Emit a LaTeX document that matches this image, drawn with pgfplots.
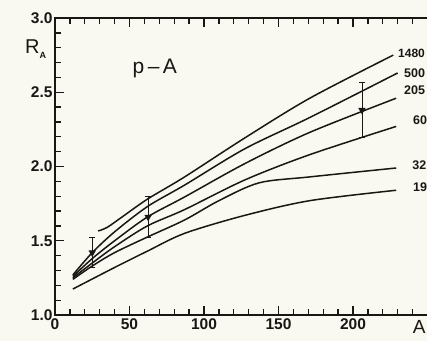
\documentclass[border=0pt]{standalone}
\usepackage{pgfplots}
\pgfplotsset{compat=1.18}
\usepackage{fontspec}
\setmainfont{Liberation Sans}
\definecolor{bg}{RGB}{250,249,241}
\definecolor{ink}{RGB}{25,22,20}
\begin{document}
\begin{tikzpicture}[x=1pt,y=1pt]
\useasboundingbox[fill=bg] (-55,-26) rectangle (372,315);
\begin{axis}[
  at={(0,0)}, anchor=south west,
  scale only axis, width=372.5pt, height=297pt,
  xmin=0, xmax=250, ymin=1, ymax=3,
  axis line style={ink, line width=1.6pt},
  xtick={0,50,100,150,200}, minor xtick={10,20,...,240},
  ytick={1.0,1.5,2.0,2.5,3.0}, minor ytick={1.1,1.2,...,2.95},
  ytick pos=left,
  xticklabel={\textbf{\pgfmathprintnumber[assume math mode=true]{\tick}}},
  yticklabel={\textbf{\pgfmathprintnumber[assume math mode=true,fixed,fixed zerofill,precision=1]{\tick}}},
  tick style={ink, line width=1.3pt},
  major tick length=9pt, minor tick length=6pt,
  tick align=inside,
  ticklabel style={font=\bfseries\fontsize{15.5}{15.5}\selectfont, text=ink},
  xticklabel style={yshift=0pt},
  yticklabel style={xshift=1pt},
  clip=false,
]
\addplot[ink, line width=1.5pt, smooth] coordinates {(29,1.566) (35,1.59) (45,1.66) (62,1.78) (87,1.93) (127,2.19) (171,2.46) (227,2.75)};
\addplot[ink, line width=1.5pt, smooth] coordinates {(12,1.27) (25,1.42) (40,1.56) (62,1.73) (87,1.875) (127.5,2.12) (171,2.33) (230,2.63)};
\addplot[ink, line width=1.5pt, smooth] coordinates {(12,1.26) (25,1.38) (40,1.50) (62,1.66) (87,1.795) (127.5,2.02) (171,2.23) (229,2.46)};
\addplot[ink, line width=1.5pt, smooth] coordinates {(12,1.25) (25,1.35) (40,1.46) (62,1.60) (87,1.71) (127.5,1.91) (171,2.08) (229,2.27)};
\addplot[ink, line width=1.5pt, smooth] coordinates {(12,1.24) (25,1.33) (40,1.42) (62,1.525) (87,1.64) (110,1.77) (137,1.89) (171,1.93) (229,1.99)};
\addplot[ink, line width=1.5pt, smooth] coordinates {(12,1.175) (40,1.32) (62,1.43) (87,1.55) (127,1.67) (171,1.77) (229,1.84)};
% error bars
\addplot[ink, line width=1.3pt, only marks, mark=triangle*, mark size=3pt, mark options={rotate=180},
  error bars/.cd, y dir=both, y explicit, error mark options={rotate=90, mark size=3pt, line width=1.3pt}]
  coordinates {(25,1.42) +- (0,0.1) (62.5,1.66) +- (0,0.138) (206,2.38) +- (0,0.185)};
% labels
\node[anchor=west, inner sep=1pt, font=\bfseries\fontsize{12}{12}\selectfont, text=ink] at (axis cs:229.5,2.76) {1480};
\node[anchor=west, font=\bfseries\fontsize{12.5}{12.5}\selectfont, text=ink] at (axis cs:232,2.63) {500};
\node[anchor=west, font=\bfseries\fontsize{12.5}{12.5}\selectfont, text=ink] at (axis cs:232,2.515) {205};
\node[anchor=west, font=\bfseries\fontsize{12.5}{12.5}\selectfont, text=ink] at (axis cs:238,2.31) {60};
\node[anchor=west, font=\bfseries\fontsize{12.5}{12.5}\selectfont, text=ink] at (axis cs:237.5,2.01) {32};
\node[anchor=west, font=\bfseries\fontsize{12.5}{12.5}\selectfont, text=ink] at (axis cs:238,1.862) {19};
\node[font=\fontsize{21}{21}\selectfont, text=ink] at (axis cs:67,2.66) {p\,–\,A};
\node[font=\fontsize{20}{20}\selectfont, text=ink] at (axis cs:-13,2.79) {R\raisebox{-5pt}{\fontsize{9}{9}\selectfont\bfseries A}};
\node[anchor=north east, inner sep=1pt, font=\fontsize{19}{19}\selectfont, text=ink] at (axis cs:249.5,0.97) {A};
\end{axis}
\end{tikzpicture}
\end{document}
